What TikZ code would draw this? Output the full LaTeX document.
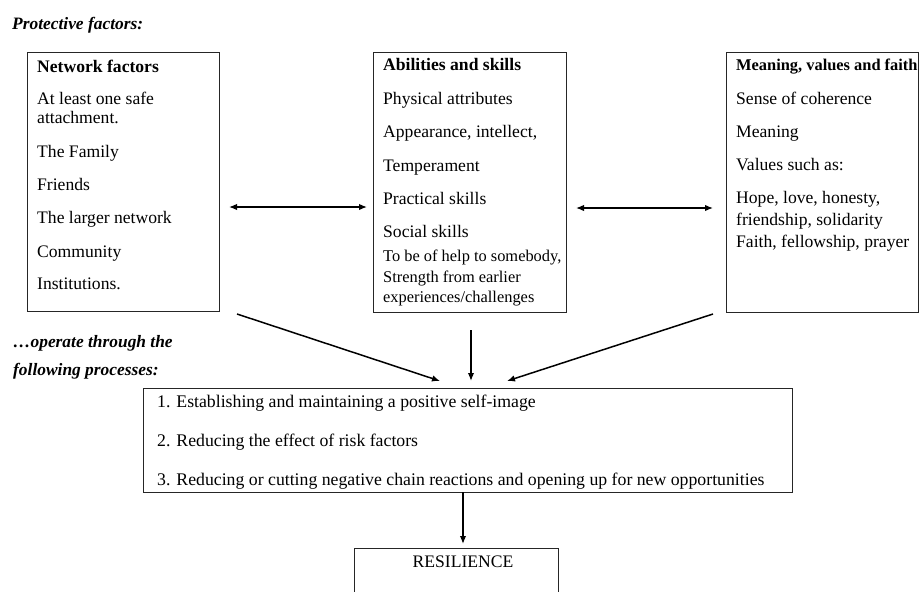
\documentclass[tikz,border=0pt]{standalone}
\usepackage{fontspec}
\setmainfont{Liberation Serif}
\usetikzlibrary{arrows.meta}
\begin{document}
\begin{tikzpicture}[x=1pt,y=-1pt,
  box/.style={draw=black!85, line width=0.9pt, inner sep=0pt, anchor=north west},
  txt/.style={anchor=base west, inner sep=0pt, font=\fontsize{17.6}{20}\selectfont},
  ptxt/.style={anchor=base west, inner sep=0pt, font=\fontsize{17.75}{20}\selectfont},
  stxt/.style={anchor=base west, inner sep=0pt, font=\fontsize{16.4}{19}\selectfont},
  hd/.style={anchor=base west, inner sep=0pt, font=\fontsize{17.6}{20}\selectfont\bfseries},
  shd/.style={anchor=base west, inner sep=0pt, font=\fontsize{16.4}{19}\selectfont\bfseries},
  lab/.style={anchor=base west, inner sep=0pt, font=\fontsize{17.4}{20}\selectfont\bfseries\itshape},
  arr/.style={line width=1.5pt, -{Latex[length=8pt,width=6.5pt]}},
  darr/.style={line width=1.4pt, {Latex[length=8pt,width=6.5pt]}-{Latex[length=8pt,width=6.5pt]}}]
\useasboundingbox (0,0) rectangle (919,592);

% labels
\node[lab] (pf) at (12,29) {Protective factors:};
\node[lab] (op1) at (13,347) {…operate through the};
\node[lab] (op2) at (13,375) {following processes:};

% boxes
\node[box, minimum width=192pt, minimum height=259pt] (L) at (27,52) {};
\node[box, minimum width=193pt, minimum height=260pt] (M) at (373,52) {};
\node[box, minimum width=192pt, minimum height=260pt] (R) at (726,52) {};
\node[box, minimum width=649pt, minimum height=104pt] (P) at (143,388) {};
\node[box, minimum width=204pt, minimum height=90pt] (RES) at (354,548) {};

% left box text
\node[hd]  (l0) at (37,72)  {Network factors};
\node[txt] (l1) at (37,104) {At least one safe};
\node[txt] (l2) at (37,123) {attachment.};
\node[txt] (l3) at (37,157) {The Family};
\node[txt] (l4) at (37,190) {Friends};
\node[txt] (l5) at (37,223) {The larger network};
\node[txt] (l6) at (37,257) {Community};
\node[txt] (l7) at (37,289) {Institutions.};

% middle box text
\node[hd]   (m0) at (383,70)  {Abilities and skills};
\node[txt]  (m1) at (383,104) {Physical attributes};
\node[txt]  (m2) at (383,137) {Appearance, intellect,};
\node[txt]  (m3) at (383,171) {Temperament};
\node[txt]  (m4) at (383,204) {Practical skills};
\node[txt]  (m5) at (383,237) {Social skills};
\node[stxt] (m6) at (383,261) {To be of help to somebody,};
\node[stxt] (m7) at (383,282) {Strength from earlier};
\node[stxt] (m8) at (383,302) {experiences/challenges};

% right box text
\node[shd] (r0) at (736,70)  {Meaning, values and faith};
\node[txt] (r1) at (736,104) {Sense of coherence};
\node[txt] (r2) at (736,137) {Meaning};
\node[txt] (r3) at (736,170) {Values such as:};
\node[txt] (r4) at (736,203) {Hope, love, honesty,};
\node[txt] (r5) at (736,225) {friendship, solidarity};
\node[txt] (r6) at (736,247) {Faith, fellowship, prayer};

% process box text
\node[ptxt] (p1) at (157,407) {1. Establishing and maintaining a positive self-image};
\node[ptxt] (p2) at (157,446) {2. Reducing the effect of risk factors};
\node[ptxt] (p3) at (157,485) {3. Reducing or cutting negative chain reactions and opening up for new opportunities};

% resilience
\node[anchor=base, inner sep=0pt, font=\fontsize{17.6}{20}\selectfont] (rt) at (463,567) {RESILIENCE};

% connector ends
\coordinate (a1) at (229,207);
\coordinate (a2) at (367,207);
\coordinate (b1) at (576,208);
\coordinate (b2) at (713,208);
\coordinate (c1) at (237,314);
\coordinate (c2) at (440,381);
\coordinate (d1) at (471,330);
\coordinate (d2) at (471,381);
\coordinate (e1) at (713,314);
\coordinate (e2) at (507,381);
\coordinate (f1) at (463,492);
\coordinate (f2) at (463,544);

\draw[darr] (a1) -- (a2);
\draw[darr] (b1) -- (b2);
\draw[arr] (c1) -- (c2);
\draw[arr] (d1) -- (d2);
\draw[arr] (e1) -- (e2);
\draw[arr] (f1) -- (f2);
\end{tikzpicture}
\end{document}
